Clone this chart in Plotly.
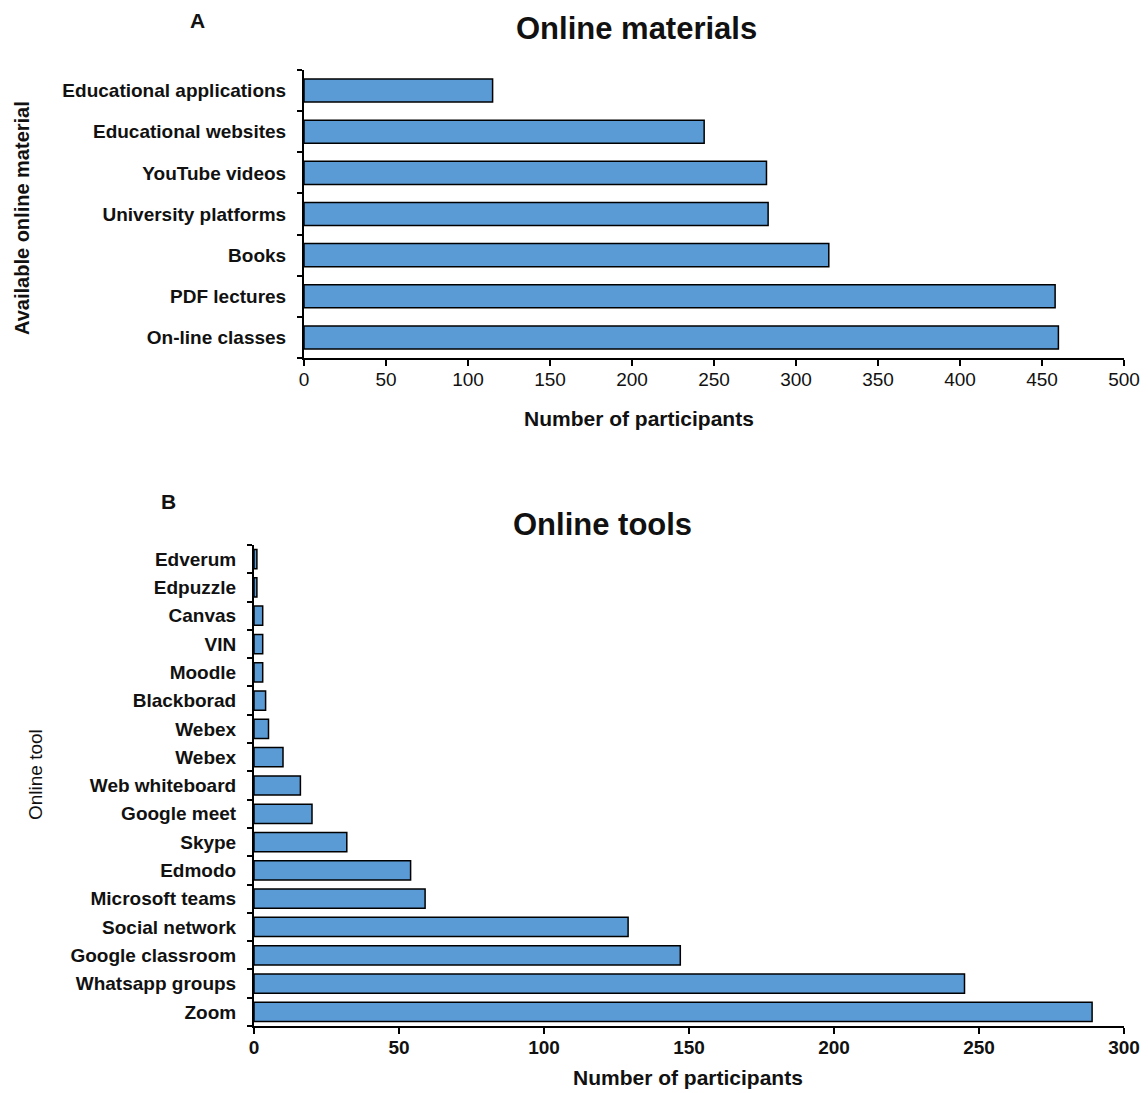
import plotly.graph_objects as go

# ---- data ----
materials = ["Educational applications", "Educational websites", "YouTube videos",
             "University platforms", "Books", "PDF lectures", "On-line classes"]
materials_counts = [115, 244, 282, 283, 320, 458, 460]

tools = ["Edverum", "Edpuzzle", "Canvas", "VIN", "Moodle", "Blackborad", "Webex", "Webex",
         "Web whiteboard", "Google meet", "Skype", "Edmodo", "Microsoft teams",
         "Social network", "Google classroom", "Whatsapp groups", "Zoom"]
tools_counts = [1, 1, 3, 3, 3, 4, 5, 10, 16, 20, 32, 54, 59, 129, 147, 245, 289]

x_ticks_a = [0, 50, 100, 150, 200, 250, 300, 350, 400, 450, 500]
x_ticks_b = [0, 50, 100, 150, 200, 250, 300]

W, H = 1148, 1093
BAR = "#5B9BD5"
LAB = "Liberation Sans, Arial, sans-serif"

mat_ids = ["m%d" % i for i in range(len(materials))]
tool_ids = ["t%d" % i for i in range(len(tools))]

fig = go.Figure()
fig.add_trace(go.Bar(x=materials_counts, y=mat_ids, orientation="h", width=0.56,
                     marker=dict(color=BAR, line=dict(color="black", width=1.5)),
                     xaxis="x", yaxis="y", showlegend=False))
fig.add_trace(go.Bar(x=tools_counts, y=tool_ids, orientation="h", width=0.68,
                     marker=dict(color=BAR, line=dict(color="black", width=1.5)),
                     xaxis="x2", yaxis="y2", showlegend=False))

def px(x):
    return x / W

def py(y):
    return 1 - y / H

axis_common = dict(showline=True, linecolor="black", linewidth=2, showgrid=False,
                   zeroline=False, ticks="outside", tickcolor="black", tickwidth=2,
                   automargin=False)

fig.update_layout(
    width=W, height=H, margin=dict(l=0, r=0, t=0, b=0),
    paper_bgcolor="white", plot_bgcolor="white",
    xaxis=dict(domain=[px(304), px(1124)], range=[0, 500], tickvals=x_ticks_a,
               ticklen=6, anchor="y", ticklabelstandoff=-3,
               tickfont=dict(family=LAB, size=19, color="#111"), **axis_common),
    yaxis=dict(domain=[py(358), py(70)], type="category", autorange="reversed",
               tickmode="array", tickvals=mat_ids, ticktext=materials,
               tickson="boundaries", ticklen=5, anchor="x", ticklabelstandoff=12,
               tickfont=dict(family=LAB, size=19, color="#111", weight="bold"),
               **axis_common),
    xaxis2=dict(domain=[px(254), px(1124)], range=[0, 300], tickvals=x_ticks_b,
                ticklen=6, anchor="y2", ticklabelstandoff=-3,
                tickfont=dict(family=LAB, size=19, color="#111", weight="bold"),
                **axis_common),
    yaxis2=dict(domain=[py(1026), py(545)], type="category", autorange="reversed",
                tickmode="array", tickvals=tool_ids, ticktext=tools,
                tickson="boundaries", ticklen=5, anchor="x2", ticklabelstandoff=12,
                tickfont=dict(family=LAB, size=19, color="#111", weight="bold"),
                **axis_common),
)

def ann(text, x, y, size, angle=0, weight="bold"):
    fig.add_annotation(text=text, x=px(x), y=py(y), xref="paper", yref="paper",
                       showarrow=False, textangle=angle, xanchor="center", yanchor="middle",
                       font=dict(family=LAB, size=size, color="#111", weight=weight))

ann("A", 197, 20, 21)
ann("Online materials", 636, 29, 31)
ann("Number of participants", 639, 419, 21)
ann("Available online material", 22, 218, 20, angle=-90)

ann("B", 168, 501, 21)
ann("Online tools", 602, 524, 31)
ann("Number of participants", 688, 1077, 21)
ann("Online tool", 35, 775, 19, angle=-90, weight="normal")

fig.write_html("out.html")
